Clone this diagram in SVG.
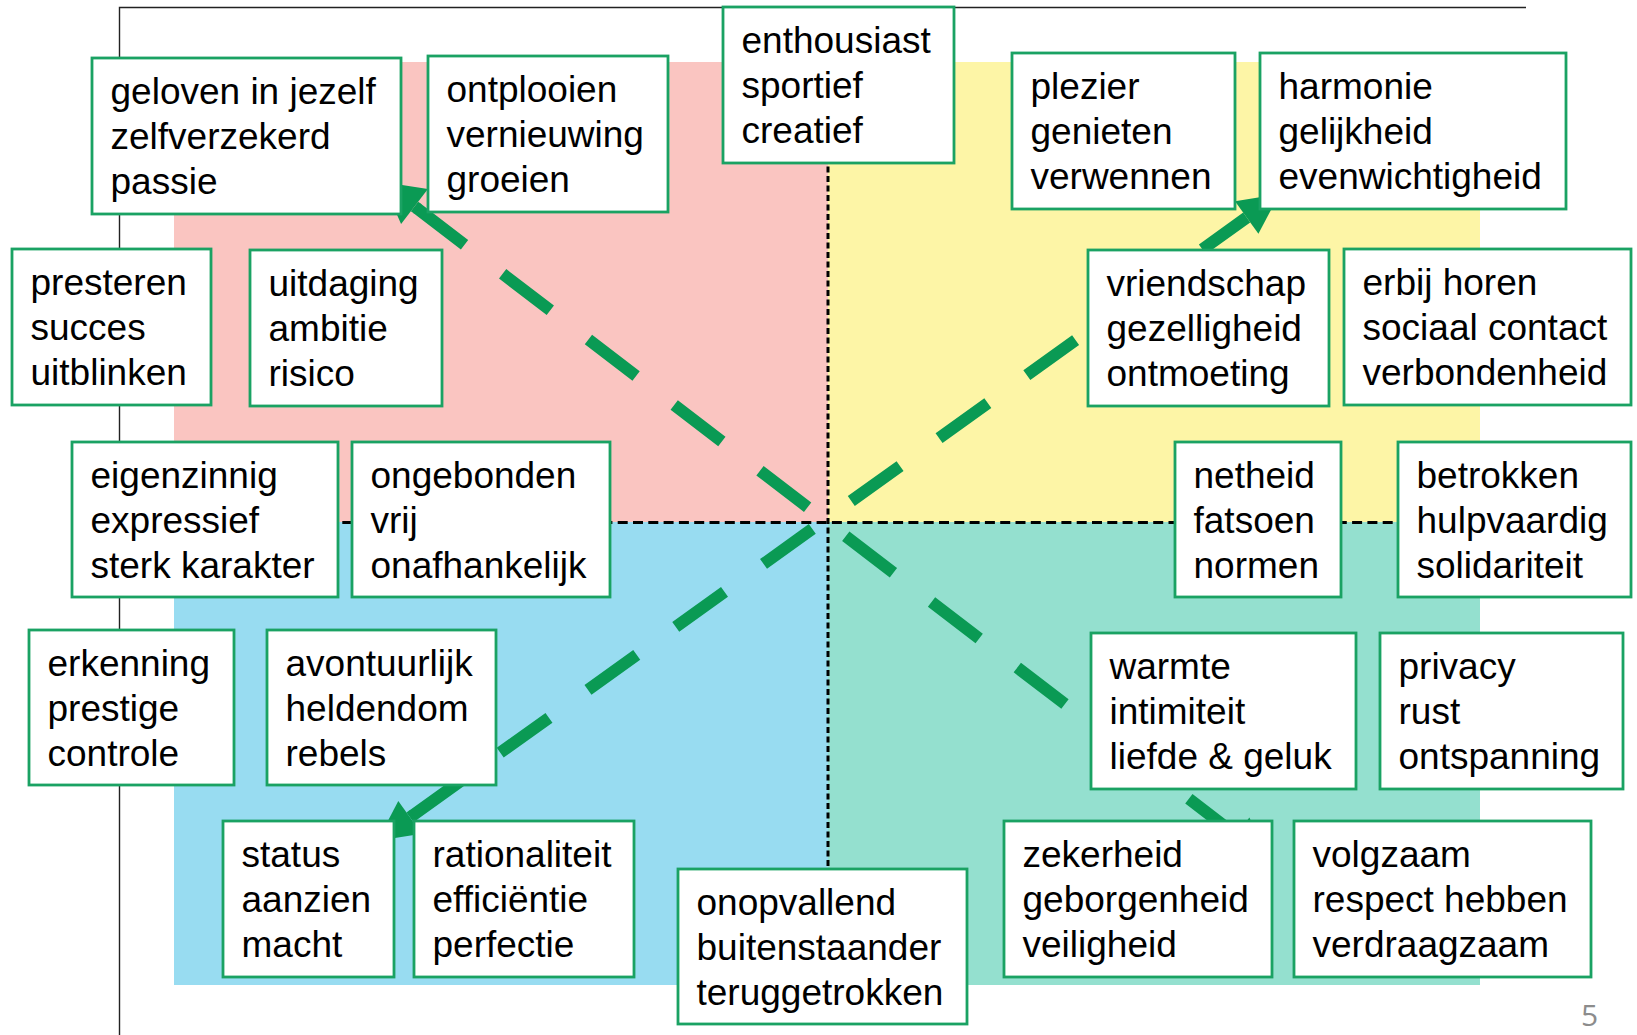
<svg xmlns="http://www.w3.org/2000/svg" width="1637" height="1035" viewBox="0 0 1637 1035">
<style>
.box rect{fill:#ffffff;stroke:#1AA263;stroke-width:2.8}
.box text{font-family:"Liberation Sans",Arial,sans-serif;font-size:37px;fill:#000}
.shaft{fill:none;stroke:#0A9A54;stroke-width:12;stroke-dasharray:60 48;stroke-dashoffset:-3}
.head{fill:#0A9A54}
</style>
<rect width="1637" height="1035" fill="#ffffff"/>
<g id="frame">
<path d="M119.5 1035 V7.5 H1526" fill="none" stroke="#222" stroke-width="1.4"/>
</g>
<g id="quadrants">
<rect x="174" y="62" width="654" height="460" fill="#FAC5C1"/>
<rect x="828" y="62" width="652" height="460" fill="#FDF5A6"/>
<rect x="174" y="522" width="654" height="463" fill="#98DCF1"/>
<rect x="828" y="522" width="652" height="463" fill="#94E0CF"/>
<line x1="828" y1="62" x2="828" y2="985" stroke="#000" stroke-width="3" stroke-dasharray="6 3.5"/>
<line x1="174" y1="522.5" x2="1480" y2="522.5" stroke="#000" stroke-width="3.2" stroke-dasharray="10 5.3"/>
</g>
<g id="connectors">
<path class="shaft" d="M414.5 206.4 L1236 834.9"/>
<path d="M414.5 206.4 L418 209.1" stroke="#0A9A54" stroke-width="12"/>
<polygon class="head" points="382.7,182.1 427.9,188.9 401.1,223.9"/>
<polygon class="head" points="1267.8,859.2 1249.4,817.4 1222.6,852.4"/>
<path class="shaft" d="M410 817.4 L1246.7 217.5"/>
<path d="M410 817.4 L413 815.2" stroke="#0A9A54" stroke-width="12"/>
<polygon class="head" points="1279.2,194.2 1235.0,201.2 1258.4,233.8"/>
<polygon class="head" points="377.5,840.7 398.3,801.1 421.7,833.7"/>
</g>
<g id="n1" class="box"><rect x="92" y="58" width="309" height="156"/><text x="110.5" y="103.5"><tspan x="110.5">geloven in jezelf</tspan><tspan x="110.5" dy="45">zelfverzekerd</tspan><tspan x="110.5" dy="45">passie</tspan></text></g>
<g id="n2" class="box"><rect x="428" y="56" width="240" height="156"/><text x="446.5" y="101.5"><tspan x="446.5">ontplooien</tspan><tspan x="446.5" dy="45">vernieuwing</tspan><tspan x="446.5" dy="45">groeien</tspan></text></g>
<g id="n3" class="box"><rect x="723" y="7" width="231" height="156"/><text x="741.5" y="52.5"><tspan x="741.5">enthousiast</tspan><tspan x="741.5" dy="45">sportief</tspan><tspan x="741.5" dy="45">creatief</tspan></text></g>
<g id="n4" class="box"><rect x="1012" y="53" width="223" height="156"/><text x="1030.5" y="98.5"><tspan x="1030.5">plezier</tspan><tspan x="1030.5" dy="45">genieten</tspan><tspan x="1030.5" dy="45">verwennen</tspan></text></g>
<g id="n5" class="box"><rect x="1260" y="53" width="306" height="156"/><text x="1278.5" y="98.5"><tspan x="1278.5">harmonie</tspan><tspan x="1278.5" dy="45">gelijkheid</tspan><tspan x="1278.5" dy="45">evenwichtigheid</tspan></text></g>
<g id="n6" class="box"><rect x="12" y="249" width="199" height="156"/><text x="30.5" y="294.5"><tspan x="30.5">presteren</tspan><tspan x="30.5" dy="45">succes</tspan><tspan x="30.5" dy="45">uitblinken</tspan></text></g>
<g id="n7" class="box"><rect x="250" y="250" width="192" height="156"/><text x="268.5" y="295.5"><tspan x="268.5">uitdaging</tspan><tspan x="268.5" dy="45">ambitie</tspan><tspan x="268.5" dy="45">risico</tspan></text></g>
<g id="n8" class="box"><rect x="1088" y="250" width="241" height="156"/><text x="1106.5" y="295.5"><tspan x="1106.5">vriendschap</tspan><tspan x="1106.5" dy="45">gezelligheid</tspan><tspan x="1106.5" dy="45">ontmoeting</tspan></text></g>
<g id="n9" class="box"><rect x="1344" y="249" width="287" height="156"/><text x="1362.5" y="294.5"><tspan x="1362.5">erbij horen</tspan><tspan x="1362.5" dy="45">sociaal contact</tspan><tspan x="1362.5" dy="45">verbondenheid</tspan></text></g>
<g id="n10" class="box"><rect x="72" y="442" width="266" height="155"/><text x="90.5" y="487.5"><tspan x="90.5">eigenzinnig</tspan><tspan x="90.5" dy="45">expressief</tspan><tspan x="90.5" dy="45">sterk karakter</tspan></text></g>
<g id="n11" class="box"><rect x="352" y="442" width="258" height="155"/><text x="370.5" y="487.5"><tspan x="370.5">ongebonden</tspan><tspan x="370.5" dy="45">vrij</tspan><tspan x="370.5" dy="45">onafhankelijk</tspan></text></g>
<g id="n12" class="box"><rect x="1175" y="442" width="166" height="155"/><text x="1193.5" y="487.5"><tspan x="1193.5">netheid</tspan><tspan x="1193.5" dy="45">fatsoen</tspan><tspan x="1193.5" dy="45">normen</tspan></text></g>
<g id="n13" class="box"><rect x="1398" y="442" width="233" height="155"/><text x="1416.5" y="487.5"><tspan x="1416.5">betrokken</tspan><tspan x="1416.5" dy="45">hulpvaardig</tspan><tspan x="1416.5" dy="45">solidariteit</tspan></text></g>
<g id="n14" class="box"><rect x="29" y="630" width="205" height="155"/><text x="47.5" y="675.5"><tspan x="47.5">erkenning</tspan><tspan x="47.5" dy="45">prestige</tspan><tspan x="47.5" dy="45">controle</tspan></text></g>
<g id="n15" class="box"><rect x="267" y="630" width="229" height="155"/><text x="285.5" y="675.5"><tspan x="285.5">avontuurlijk</tspan><tspan x="285.5" dy="45">heldendom</tspan><tspan x="285.5" dy="45">rebels</tspan></text></g>
<g id="n16" class="box"><rect x="1091" y="633" width="265" height="156"/><text x="1109.5" y="678.5"><tspan x="1109.5">warmte</tspan><tspan x="1109.5" dy="45">intimiteit</tspan><tspan x="1109.5" dy="45">liefde &amp; geluk</tspan></text></g>
<g id="n17" class="box"><rect x="1380" y="633" width="243" height="156"/><text x="1398.5" y="678.5"><tspan x="1398.5">privacy</tspan><tspan x="1398.5" dy="45">rust</tspan><tspan x="1398.5" dy="45">ontspanning</tspan></text></g>
<g id="n18" class="box"><rect x="223" y="821" width="171" height="156"/><text x="241.5" y="866.5"><tspan x="241.5">status</tspan><tspan x="241.5" dy="45">aanzien</tspan><tspan x="241.5" dy="45">macht</tspan></text></g>
<g id="n19" class="box"><rect x="414" y="821" width="220" height="156"/><text x="432.5" y="866.5"><tspan x="432.5">rationaliteit</tspan><tspan x="432.5" dy="45">efficiëntie</tspan><tspan x="432.5" dy="45">perfectie</tspan></text></g>
<g id="n20" class="box"><rect x="678" y="869" width="289" height="155"/><text x="696.5" y="914.5"><tspan x="696.5">onopvallend</tspan><tspan x="696.5" dy="45">buitenstaander</tspan><tspan x="696.5" dy="45">teruggetrokken</tspan></text></g>
<g id="n21" class="box"><rect x="1004" y="821" width="268" height="156"/><text x="1022.5" y="866.5"><tspan x="1022.5">zekerheid</tspan><tspan x="1022.5" dy="45">geborgenheid</tspan><tspan x="1022.5" dy="45">veiligheid</tspan></text></g>
<g id="n22" class="box"><rect x="1294" y="821" width="297" height="156"/><text x="1312.5" y="866.5"><tspan x="1312.5">volgzaam</tspan><tspan x="1312.5" dy="45">respect hebben</tspan><tspan x="1312.5" dy="45">verdraagzaam</tspan></text></g>
<text id="pagenum" x="1581" y="1026" font-family="'Open Sans','DejaVu Sans',sans-serif" font-size="30" fill="#8C8C8C">5</text>
</svg>
